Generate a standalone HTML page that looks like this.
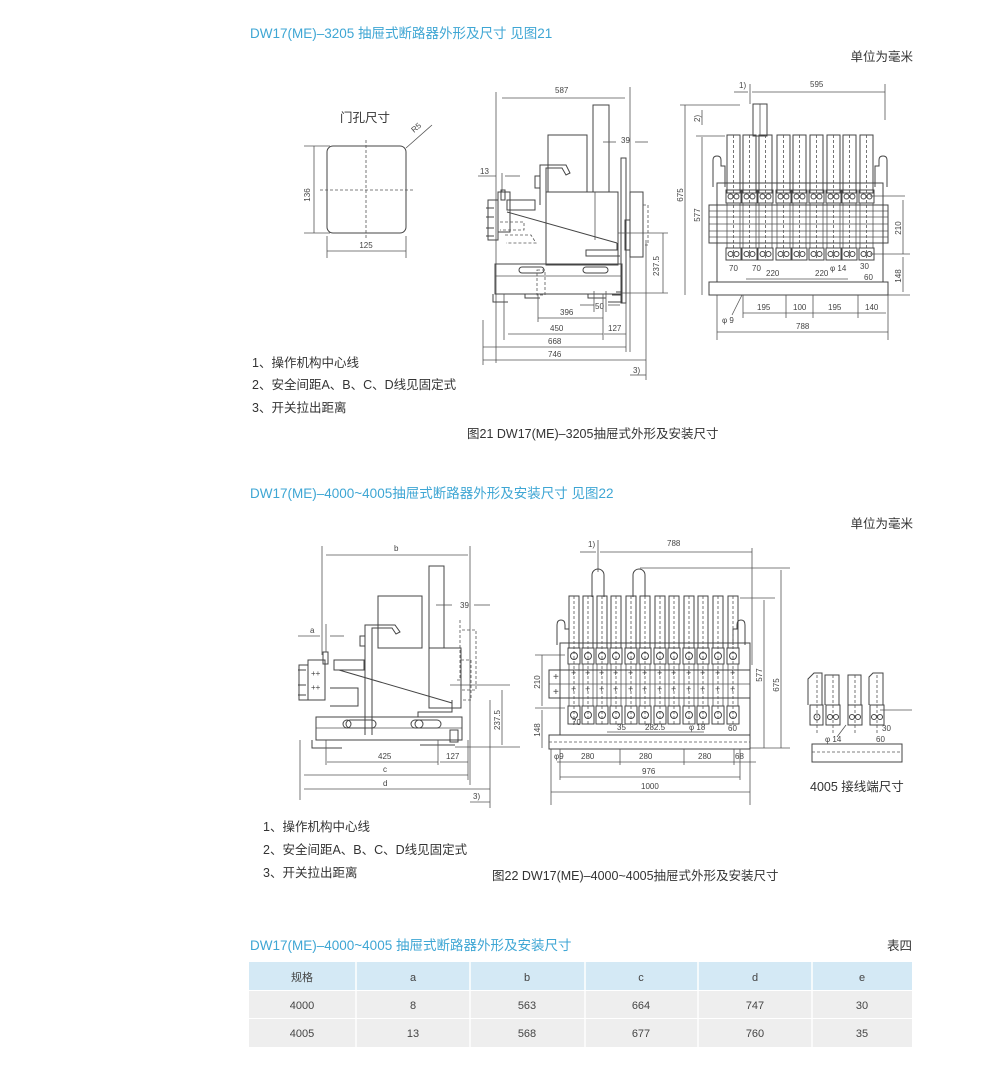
<!DOCTYPE html>
<html><head><meta charset="utf-8"><style>
html,body{margin:0;padding:0;background:#fff;}
svg{display:block;}
.t{font-family:"Liberation Sans","Noto Sans CJK SC",sans-serif;}
.ttl{fill:#3ea6d4;font-size:13.5px;}
.lb{fill:#333;font-size:12.5px;}
.d{fill:#444;font-size:8px;}
.l{stroke:#555;stroke-width:0.8;fill:none;}
.lk{stroke:#444;stroke-width:1;fill:none;}
.ds{stroke:#555;stroke-width:0.8;fill:none;stroke-dasharray:3 2;}
</style></head><body>
<svg width="1007" height="1080" viewBox="0 0 1007 1080" xmlns="http://www.w3.org/2000/svg">
<defs>
<g id="bar1">
 <rect x="0" y="0" width="13" height="58" class="lk"/>
 <line x1="6.5" y1="0" x2="6.5" y2="125" class="ds"/>
 <rect x="-1" y="55" width="15" height="13" class="lk"/>
 <circle cx="3.5" cy="61.5" r="2.5" class="lk"/><circle cx="9.5" cy="61.5" r="2.5" class="lk"/>
 <rect x="0" y="68" width="13" height="45" class="l"/>
 <rect x="-1" y="113" width="15" height="12" class="lk"/>
 <circle cx="3.5" cy="119" r="2.5" class="lk"/><circle cx="9.5" cy="119" r="2.5" class="lk"/>
</g>
<g id="bar2">
 <rect x="0" y="0" width="10" height="52" class="lk"/>
 <line x1="5" y1="0" x2="5" y2="128" class="ds"/>
 <rect x="-1" y="52" width="12" height="16" class="lk"/>
 <circle cx="5" cy="60" r="3.5" class="lk"/>
 <rect x="0" y="68" width="10" height="42" class="l"/>
 <text x="2" y="80" class="t d" style="font-size:9px">+</text>
 <text x="2" y="96" class="t d" style="font-size:9px">+</text>
 <rect x="-1" y="110" width="12" height="18" class="lk"/>
 <circle cx="5" cy="119" r="3.5" class="lk"/>
</g>
</defs>

<!-- ===== Section 1 ===== -->
<text x="250" y="38" class="t ttl">DW17(ME)–3205 抽屉式断路器外形及尺寸  见图21</text>
<text x="913" y="61" class="t lb" text-anchor="end">单位为毫米</text>

<!-- door hole -->
<text x="340" y="122" class="t lb">门孔尺寸</text>
<rect x="327" y="146" width="79" height="87" rx="6" class="lk"/>
<line x1="366" y1="140" x2="366" y2="240" class="ds"/>
<line x1="320" y1="190" x2="414" y2="190" class="ds"/>
<line x1="304" y1="146" x2="330" y2="146" class="l"/><line x1="304" y1="233" x2="330" y2="233" class="l"/>
<line x1="314" y1="146" x2="314" y2="233" class="l"/>
<text x="310" y="195" class="t d" transform="rotate(-90 310 195)" text-anchor="middle">136</text>
<line x1="327" y1="236" x2="327" y2="258" class="l"/><line x1="406" y1="236" x2="406" y2="258" class="l"/>
<line x1="327" y1="251" x2="406" y2="251" class="l"/>
<text x="366" y="248" class="t d" text-anchor="middle">125</text>
<line x1="406" y1="148" x2="432" y2="125" class="l"/>
<text x="414" y="133" class="t d" transform="rotate(-40 414 133)">R5</text>

<!-- side view 1 -->
<g>
<line x1="496" y1="92" x2="496" y2="363" class="l"/>
<line x1="630" y1="87" x2="630" y2="352" class="l"/>
<line x1="502" y1="98" x2="625" y2="98" class="l"/>
<text x="555" y="93" class="t d">587</text>
<rect x="593" y="105" width="16" height="87" class="lk"/>
<rect x="548" y="135" width="39" height="57" class="lk"/>
<path d="M540 205 V165 H566 L570 173 L566 175 L562 168 H546 V205" class="lk"/>
<rect x="535" y="176" width="5" height="12" class="lk"/>
<rect x="546" y="192" width="72" height="73" class="lk"/>
<line x1="595" y1="192" x2="595" y2="240" class="l"/>
<line x1="507" y1="212" x2="617" y2="243" class="lk"/>
<path d="M617 243 V250 H586 V256 H620" class="lk"/>
<rect x="621" y="158" width="5" height="145" class="lk"/>
<rect x="630" y="192" width="13" height="65" class="lk"/>
<rect x="625" y="220" width="5" height="30" class="lk"/>
<path d="M643 205 h5 v40 h-5" class="ds"/>
<rect x="495" y="264" width="127" height="30" class="lk"/>
<line x1="495" y1="276" x2="622" y2="276" class="l"/>
<rect x="519" y="267" width="25" height="6" rx="3" class="lk"/>
<rect x="583" y="267" width="25" height="6" rx="3" class="lk"/>
<rect x="537" y="270" width="8" height="25" class="ds"/>
<path d="M493 294 v8 h15 M525 294 v4 h15 M588 294 v4 h18" class="lk"/>
<path d="M616 292 h6 v10 h-14 M612 295 h10" class="lk"/>
<rect x="498" y="192" width="12" height="40" class="lk"/>
<rect x="488" y="200" width="10" height="40" class="lk"/>
<path d="M486 208 h8 M486 217 h8 M486 228 h8 M486 236 h8" class="lk"/>
<rect x="501" y="190" width="4" height="10" class="lk"/>
<path d="M507 200 h28 v10 h-28 z" class="lk"/>
<path d="M500 222 h24 v8 h-24 M505 235 h26 l5 8 h-30" class="ds"/>
<line x1="502" y1="173" x2="502" y2="192" class="l"/>
<line x1="478" y1="176" x2="496" y2="176" class="l"/><line x1="505" y1="176" x2="520" y2="176" class="l"/>
<text x="480" y="174" class="t d">13</text>
<line x1="603" y1="142" x2="616" y2="142" class="l"/><line x1="635" y1="142" x2="648" y2="142" class="l"/>
<text x="621" y="143" class="t d">39</text>
<line x1="618" y1="233" x2="668" y2="233" class="l"/>
<line x1="622" y1="293" x2="668" y2="293" class="l"/>
<line x1="663" y1="233" x2="663" y2="293" class="l"/>
<text x="659" y="266" class="t d" transform="rotate(-90 659 266)" text-anchor="middle">237.5</text>
<line x1="594" y1="291" x2="594" y2="312" class="l"/><line x1="606" y1="291" x2="606" y2="312" class="l"/>
<line x1="580" y1="305" x2="594" y2="305" class="l"/><line x1="608" y1="305" x2="620" y2="305" class="l"/>
<text x="595" y="309" class="t d">50</text>
<line x1="538" y1="294" x2="538" y2="322" class="l"/><line x1="603" y1="294" x2="603" y2="340" class="l"/>
<line x1="504" y1="294" x2="504" y2="340" class="l"/><line x1="626" y1="294" x2="626" y2="352" class="l"/>
<line x1="483" y1="320" x2="483" y2="365" class="l"/>
<line x1="538" y1="318" x2="603" y2="318" class="l"/><text x="560" y="315" class="t d">396</text>
<line x1="508" y1="334" x2="603" y2="334" class="l"/><text x="550" y="331" class="t d">450</text>
<line x1="604" y1="334" x2="626" y2="334" class="l"/><text x="608" y="331" class="t d">127</text>
<line x1="483" y1="347" x2="626" y2="347" class="l"/><text x="548" y="344" class="t d">668</text>
<line x1="483" y1="360" x2="646" y2="360" class="l"/><text x="548" y="357" class="t d">746</text>
<line x1="646" y1="240" x2="646" y2="380" class="l"/>
<text x="633" y="373" class="t d">3)</text><line x1="630" y1="375" x2="646" y2="375" class="l"/>
</g>

<!-- front view 1 -->
<g>
<line x1="750" y1="84" x2="750" y2="104" class="l"/>
<line x1="885" y1="84" x2="885" y2="120" class="l"/>
<line x1="734" y1="92" x2="748" y2="92" class="l"/><line x1="752" y1="92" x2="885" y2="92" class="l"/>
<text x="739" y="88" class="t d">1)</text><text x="810" y="87" class="t d">595</text>
<rect x="753" y="104" width="14" height="32" class="lk"/>
<line x1="760" y1="104" x2="760" y2="136" class="l"/>
<line x1="680" y1="105" x2="740" y2="105" class="l"/>
<line x1="696" y1="136" x2="725" y2="136" class="l"/>
<line x1="685" y1="105" x2="685" y2="295" class="l"/>
<line x1="702" y1="110" x2="702" y2="125" class="l"/><line x1="702" y1="137" x2="702" y2="295" class="l"/>
<text x="700" y="122" class="t d" transform="rotate(-90 700 122)">2)</text>
<text x="683" y="195" class="t d" transform="rotate(-90 683 195)" text-anchor="middle">675</text>
<text x="700" y="215" class="t d" transform="rotate(-90 700 215)" text-anchor="middle">577</text>
<path d="M713 187 v-27 q0 -4 4 -4 q4 0 4 4 v6 h4 v21" class="lk"/>
<path d="M887 187 v-27 q0 -4 -4 -4 q-4 0 -4 4 v6 h-4 v21" class="lk"/>
<rect x="717" y="183" width="166" height="99" class="lk"/>
<use href="#bar1" x="727" y="135"/><use href="#bar1" x="743" y="135"/><use href="#bar1" x="759" y="135"/>
<use href="#bar1" x="777" y="135"/><use href="#bar1" x="793" y="135"/><use href="#bar1" x="810" y="135"/>
<use href="#bar1" x="827" y="135"/><use href="#bar1" x="843" y="135"/><use href="#bar1" x="860" y="135"/>
<rect x="709" y="205" width="179" height="38" class="lk"/>
<line x1="709" y1="211" x2="888" y2="211" class="l"/><line x1="709" y1="217" x2="888" y2="217" class="l"/>
<line x1="709" y1="224" x2="888" y2="224" class="l"/><line x1="709" y1="231" x2="888" y2="231" class="l"/>
<line x1="709" y1="237" x2="888" y2="237" class="l"/>
<rect x="709" y="282" width="179" height="13" class="lk"/>
<line x1="870" y1="196" x2="905" y2="196" class="l"/><line x1="870" y1="254" x2="910" y2="254" class="l"/>
<line x1="888" y1="295" x2="910" y2="295" class="l"/>
<line x1="903" y1="200" x2="903" y2="254" class="l"/><line x1="903" y1="257" x2="903" y2="292" class="l"/>
<text x="901" y="228" class="t d" transform="rotate(-90 901 228)" text-anchor="middle">210</text>
<text x="901" y="276" class="t d" transform="rotate(-90 901 276)" text-anchor="middle">148</text>
<text x="729" y="271" class="t d">70</text><text x="752" y="271" class="t d">70</text>
<text x="766" y="276" class="t d">220</text><text x="815" y="276" class="t d">220</text>
<text x="830" y="271" class="t d">φ 14</text><text x="860" y="269" class="t d">30</text><text x="864" y="280" class="t d">60</text>
<line x1="746" y1="279" x2="800" y2="279" class="l"/><line x1="800" y1="279" x2="848" y2="279" class="l"/>
<line x1="717" y1="295" x2="717" y2="340" class="l"/><line x1="888" y1="295" x2="888" y2="340" class="l"/>
<line x1="743" y1="295" x2="743" y2="318" class="l"/><line x1="786" y1="295" x2="786" y2="318" class="l"/>
<line x1="813" y1="295" x2="813" y2="318" class="l"/><line x1="858" y1="295" x2="858" y2="318" class="l"/>
<line x1="743" y1="313" x2="886" y2="313" class="l"/>
<text x="757" y="310" class="t d">195</text><text x="793" y="310" class="t d">100</text>
<text x="828" y="310" class="t d">195</text><text x="865" y="310" class="t d">140</text>
<line x1="717" y1="332" x2="888" y2="332" class="l"/><text x="796" y="329" class="t d">788</text>
<line x1="742" y1="295" x2="732" y2="315" class="l"/><text x="722" y="323" class="t d">φ 9</text>
</g>

<text x="252" y="367" class="t lb">1、操作机构中心线</text>
<text x="252" y="389" class="t lb">2、安全间距A、B、C、D线见固定式</text>
<text x="252" y="412" class="t lb">3、开关拉出距离</text>
<text x="467" y="438" class="t lb">图21  DW17(ME)–3205抽屉式外形及安装尺寸</text>

<!-- ===== Section 2 ===== -->
<text x="250" y="498" class="t ttl">DW17(ME)–4000~4005抽屉式断路器外形及安装尺寸  见图22</text>
<text x="913" y="528" class="t lb" text-anchor="end">单位为毫米</text>

<!-- side view 2 -->
<g>
<line x1="322" y1="546" x2="322" y2="655" class="l"/>
<line x1="470" y1="546" x2="470" y2="785" class="l"/>
<line x1="326" y1="555" x2="468" y2="555" class="l"/><text x="394" y="551" class="t d">b</text>
<rect x="429" y="566" width="15" height="82" class="lk"/>
<rect x="378" y="596" width="44" height="52" class="lk"/>
<path d="M365 735 V625 H395 L400 632 L396 634 L392 628 H372 V735" class="lk"/>
<rect x="360" y="636" width="5" height="10" class="lk"/>
<rect x="429" y="648" width="32" height="60" class="lk"/>
<line x1="339" y1="670" x2="452" y2="703" class="lk"/>
<path d="M452 700 V712 H418 V717 H452" class="lk"/>
<path d="M460 620 v60 h-5 M461 660 h10 v40 h-10" class="ds"/>
<path d="M462 630 h14 v60 h-14" class="ds"/>
<rect x="316" y="717" width="146" height="23" class="lk"/>
<line x1="316" y1="728" x2="462" y2="728" class="l"/>
<rect x="346" y="720" width="30" height="8" rx="4" class="lk"/>
<rect x="411" y="720" width="30" height="8" rx="4" class="lk"/>
<circle cx="347" cy="724" r="4" class="lk"/><circle cx="419" cy="724" r="4" class="lk"/>
<path d="M312 740 v8 h30 M420 745 h35" class="lk"/>
<path d="M450 730 h8 v12 h-8 z" class="lk"/>
<rect x="308" y="660" width="17" height="40" class="lk"/>
<rect x="299" y="665" width="9" height="35" class="lk"/>
<path d="M298 670 h8 M298 685 h8 M298 695 h8" class="lk"/>
<text x="311" y="676" class="t d">++</text><text x="311" y="690" class="t d">++</text>
<rect x="323" y="652" width="5" height="12" class="lk"/>
<path d="M334 660 h30 v10 h-30 z M330 688 h28 v18 h-28" class="lk"/>
<line x1="326" y1="624" x2="326" y2="652" class="l"/>
<line x1="298" y1="636" x2="320" y2="636" class="l"/><line x1="330" y1="636" x2="344" y2="636" class="l"/>
<text x="310" y="633" class="t d">a</text>
<line x1="436" y1="605" x2="452" y2="605" class="l"/><line x1="474" y1="605" x2="490" y2="605" class="l"/>
<text x="460" y="608" class="t d">39</text>
<line x1="450" y1="685" x2="510" y2="685" class="l"/><line x1="455" y1="747" x2="520" y2="747" class="l"/>
<line x1="502" y1="690" x2="502" y2="745" class="l"/>
<text x="500" y="720" class="t d" transform="rotate(-90 500 720)" text-anchor="middle">237.5</text>
<line x1="326" y1="740" x2="326" y2="765" class="l"/><line x1="438" y1="740" x2="438" y2="765" class="l"/>
<line x1="468" y1="740" x2="468" y2="780" class="l"/><line x1="300" y1="740" x2="300" y2="800" class="l"/>
<line x1="327" y1="762" x2="438" y2="762" class="l"/><text x="378" y="759" class="t d">425</text>
<line x1="440" y1="762" x2="468" y2="762" class="l"/><text x="446" y="759" class="t d">127</text>
<line x1="304" y1="775" x2="468" y2="775" class="l"/><text x="383" y="772" class="t d">c</text>
<line x1="304" y1="789" x2="490" y2="789" class="l"/><text x="383" y="786" class="t d">d</text>
<line x1="490" y1="700" x2="490" y2="808" class="l"/>
<text x="473" y="799" class="t d">3)</text><line x1="470" y1="802" x2="490" y2="802" class="l"/>
</g>

<!-- front view 2 -->
<g>
<line x1="598" y1="540" x2="598" y2="572" class="l"/>
<line x1="752" y1="548" x2="752" y2="665" class="l"/>
<line x1="580" y1="552" x2="596" y2="552" class="l"/><line x1="600" y1="552" x2="752" y2="552" class="l"/>
<text x="588" y="547" class="t d">1)</text><text x="667" y="546" class="t d">788</text>
<path d="M592 597 v-22 a6 6 0 0 1 12 0 v22" class="lk"/>
<path d="M633 597 v-22 a6 6 0 0 1 12 0 v22" class="lk"/>
<line x1="640" y1="568" x2="790" y2="568" class="l"/>
<line x1="740" y1="598" x2="775" y2="598" class="l"/>
<path d="M557 645 v-20 q0 -5 4 -5 q4 0 4 5 v4 h4 v16" class="lk"/>
<path d="M745 645 v-20 q0 -5 -4 -5 q-4 0 -4 5 v4 h-4 v16" class="lk"/>
<rect x="560" y="643" width="190" height="92" class="lk"/>
<use href="#bar2" x="569" y="596"/><use href="#bar2" x="583" y="596"/><use href="#bar2" x="597" y="596"/>
<use href="#bar2" x="611" y="596"/><use href="#bar2" x="626" y="596"/><use href="#bar2" x="640" y="596"/>
<use href="#bar2" x="655" y="596"/><use href="#bar2" x="669" y="596"/><use href="#bar2" x="684" y="596"/>
<use href="#bar2" x="698" y="596"/><use href="#bar2" x="713" y="596"/><use href="#bar2" x="728" y="596"/>
<rect x="549" y="670" width="201" height="28" class="lk"/>
<line x1="549" y1="684" x2="750" y2="684" class="l"/>
<text x="553" y="680" class="t d" style="font-size:10px">+</text><text x="553" y="695" class="t d" style="font-size:10px">+</text>
<rect x="549" y="735" width="201" height="14" class="lk"/>
<line x1="549" y1="742" x2="750" y2="742" class="ds"/>
<line x1="535" y1="655" x2="565" y2="655" class="l"/><line x1="535" y1="708" x2="565" y2="708" class="l"/>
<line x1="542" y1="655" x2="542" y2="706" class="l"/><line x1="542" y1="710" x2="542" y2="748" class="l"/>
<text x="540" y="682" class="t d" transform="rotate(-90 540 682)" text-anchor="middle">210</text>
<text x="540" y="730" class="t d" transform="rotate(-90 540 730)" text-anchor="middle">148</text>
<line x1="764" y1="600" x2="764" y2="748" class="l"/><line x1="781" y1="570" x2="781" y2="748" class="l"/>
<line x1="750" y1="748" x2="790" y2="748" class="l"/>
<text x="762" y="675" class="t d" transform="rotate(-90 762 675)" text-anchor="middle">577</text>
<text x="779" y="685" class="t d" transform="rotate(-90 779 685)" text-anchor="middle">675</text>
<text x="572" y="725" class="t d">70</text><text x="617" y="730" class="t d">35</text>
<text x="645" y="730" class="t d">282.5</text><text x="689" y="730" class="t d">φ 18</text><text x="728" y="731" class="t d">60</text>
<line x1="607" y1="732" x2="704" y2="732" class="l"/>
<line x1="551" y1="749" x2="551" y2="805" class="l"/><line x1="750" y1="749" x2="750" y2="805" class="l"/>
<line x1="560" y1="749" x2="560" y2="780" class="l"/><line x1="740" y1="749" x2="740" y2="780" class="l"/>
<line x1="620" y1="749" x2="620" y2="765" class="l"/><line x1="684" y1="749" x2="684" y2="765" class="l"/>
<line x1="734" y1="749" x2="734" y2="765" class="l"/>
<line x1="557" y1="762" x2="756" y2="762" class="l"/>
<text x="554" y="759" class="t d">φ9</text>
<text x="581" y="759" class="t d">280</text><text x="639" y="759" class="t d">280</text>
<text x="698" y="759" class="t d">280</text><text x="735" y="759" class="t d">68</text>
<line x1="560" y1="777" x2="740" y2="777" class="l"/><text x="642" y="774" class="t d">976</text>
<line x1="551" y1="792" x2="750" y2="792" class="l"/><text x="641" y="789" class="t d">1000</text>
</g>

<!-- 4005 terminal detail -->
<g>
<path d="M808 705 v-26 l6 -6 h8 v32" class="lk"/>
<path d="M825 705 v-30 h14 v30" class="lk"/>
<path d="M848 705 v-30 h13 v30" class="lk"/>
<path d="M869 705 v-28 l4 -4 h10 v32" class="lk"/>
<rect x="810" y="705" width="13" height="20" class="lk"/><rect x="826" y="705" width="14" height="20" class="lk"/>
<rect x="848" y="705" width="14" height="20" class="lk"/><rect x="870" y="705" width="14" height="20" class="lk"/>
<circle cx="817" cy="717" r="3" class="lk"/>
<circle cx="830" cy="717" r="2.5" class="lk"/><circle cx="836" cy="717" r="2.5" class="lk"/>
<circle cx="852" cy="717" r="2.5" class="lk"/><circle cx="858" cy="717" r="2.5" class="lk"/>
<circle cx="874" cy="717" r="2.5" class="lk"/><circle cx="880" cy="717" r="2.5" class="lk"/>
<line x1="817" y1="675" x2="817" y2="735" class="ds"/><line x1="833" y1="675" x2="833" y2="735" class="ds"/>
<line x1="855" y1="675" x2="855" y2="735" class="ds"/><line x1="877" y1="675" x2="877" y2="735" class="ds"/>
<line x1="880" y1="710" x2="912" y2="710" class="l"/>
<rect x="812" y="744" width="90" height="18" class="lk"/>
<line x1="812" y1="752" x2="902" y2="752" class="ds"/>
<line x1="837" y1="737" x2="846" y2="725" class="l"/><text x="825" y="742" class="t d">φ 14</text>
<text x="882" y="731" class="t d">30</text><text x="876" y="742" class="t d">60</text>
<text x="810" y="791" class="t lb">4005 接线端尺寸</text>
</g>

<text x="263" y="831" class="t lb">1、操作机构中心线</text>
<text x="263" y="854" class="t lb">2、安全间距A、B、C、D线见固定式</text>
<text x="263" y="877" class="t lb">3、开关拉出距离</text>
<text x="492" y="880" class="t lb">图22  DW17(ME)–4000~4005抽屉式外形及安装尺寸</text>

<!-- ===== Table ===== -->
<text x="250" y="950" class="t ttl">DW17(ME)–4000~4005 抽屉式断路器外形及安装尺寸</text>
<text x="912" y="950" class="t lb" text-anchor="end">表四</text>
<rect x="249" y="962" width="663" height="28" fill="#d4e9f5"/>
<rect x="249" y="991" width="663" height="27" fill="#eeeeee"/>
<rect x="249" y="1019" width="663" height="28" fill="#eeeeee"/>
<g stroke="#fff" stroke-width="1.5">
<line x1="356" y1="962" x2="356" y2="1047"/><line x1="470" y1="962" x2="470" y2="1047"/>
<line x1="585" y1="962" x2="585" y2="1047"/><line x1="698" y1="962" x2="698" y2="1047"/>
<line x1="812" y1="962" x2="812" y2="1047"/>
</g>
<g class="t" style="font-size:11px;fill:#444" text-anchor="middle">
<text x="302" y="981">规格</text><text x="413" y="981">a</text><text x="527" y="981">b</text>
<text x="641" y="981">c</text><text x="755" y="981">d</text><text x="862" y="981">e</text>
<text x="302" y="1009">4000</text><text x="413" y="1009">8</text><text x="527" y="1009">563</text>
<text x="641" y="1009">664</text><text x="755" y="1009">747</text><text x="862" y="1009">30</text>
<text x="302" y="1037">4005</text><text x="413" y="1037">13</text><text x="527" y="1037">568</text>
<text x="641" y="1037">677</text><text x="755" y="1037">760</text><text x="862" y="1037">35</text>
</g>
</svg>
</body></html>
